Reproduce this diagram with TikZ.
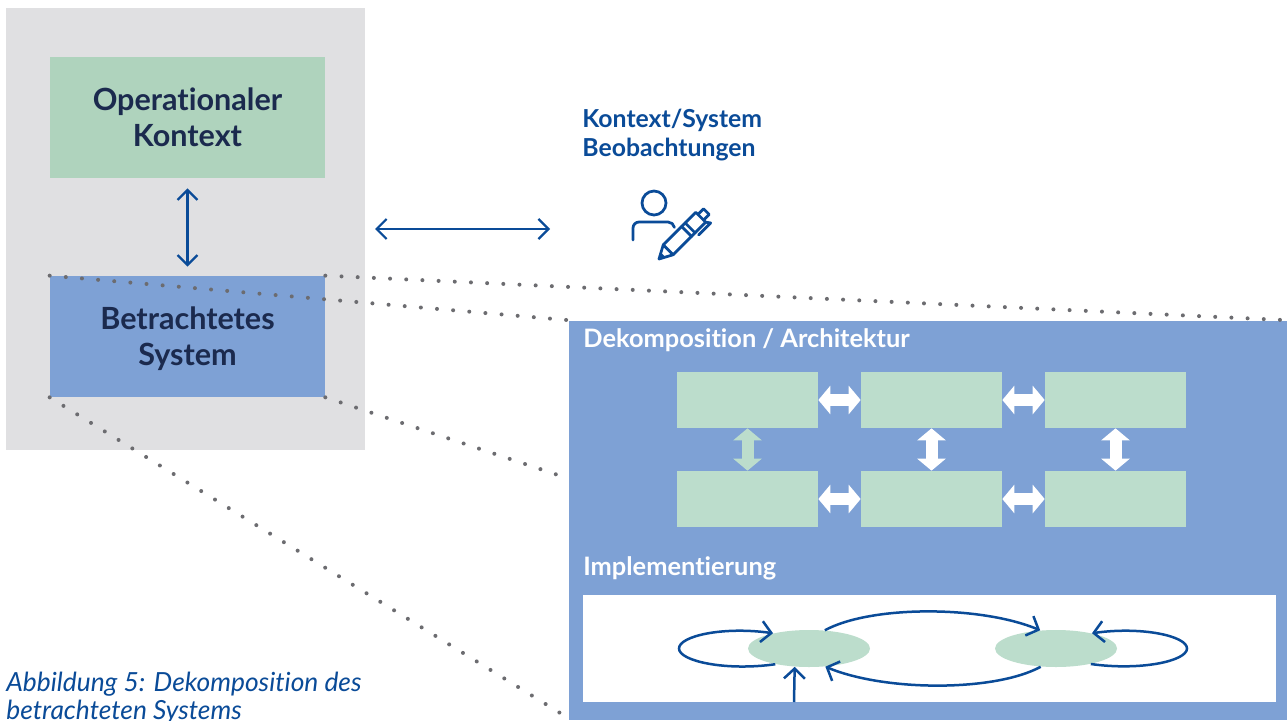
\documentclass[tikz,border=0pt]{standalone}
\usepackage{fontspec}
\setmainfont{Lato}[RawFeature=-liga]
\usetikzlibrary{arrows.meta,shapes.geometric}
\definecolor{greyback}{HTML}{E0E0E2}
\definecolor{greentop}{HTML}{AFD3BD}
\definecolor{greenpale}{HTML}{BCDDCC}
\definecolor{bluebox}{HTML}{7EA1D5}
\definecolor{navytext}{HTML}{1B2A4E}
\definecolor{bluedark}{HTML}{0A4B98}
\definecolor{dotgrey}{HTML}{6C6C70}
\tikzset{
	flatbox/.style={inner sep=0pt, minimum width=5.5cm, minimum height=2.42cm, align=center, text=navytext, text depth=0pt, font=\fontsize{17.4}{20.5}\selectfont\bfseries},
	partbox/.style={fill=greenpale, inner sep=0pt, minimum width=2.82cm, minimum height=1.12cm},
	statenode/.style={ellipse, fill=greenpale, inner sep=0pt, minimum width=2.44cm, minimum height=0.74cm},
	paneltext/.style={anchor=base west, inner sep=0pt, text=white, font=\fontsize{14.45}{16}\selectfont\bfseries},
	dotline/.style={dotgrey, line width=0.08cm, line cap=round, dash pattern=on 0pt off 0.324cm},
	thinarrow/.style={bluedark, line width=0.045cm, {Straight Barb[length=0.2cm,width=0.4cm]}-{Straight Barb[length=0.2cm,width=0.4cm]}},
	statearrow/.style={bluedark, line width=0.05cm, -{Straight Barb[length=0.2cm,width=0.42cm]}},
	blockarrow/.style={white, line width=0.24cm, {Triangle[length=0.24cm,width=0.56cm]}-{Triangle[length=0.24cm,width=0.56cm]}},
	iconline/.style={bluedark, line width=0.055cm, line join=round, line cap=round}
}

\begin{document}
\begin{tikzpicture}[x=0.02cm, y=-0.02cm]
	%%%%% START %%%%%
	\useasboundingbox (0, 0) rectangle (1287, 720);
	\clip (0, 0) rectangle (1287, 720);
	\fill[white] (0, 0) rectangle (1287, 720);

	\node[fill=greyback, inner sep=0pt, minimum width=7.18cm, minimum height=8.84cm] (backbox) at (185.5, 229) {};
	\node[flatbox, fill=greentop] (opctx) at (187.5, 117.5) {Operationaler\\Kontext};
	\node[flatbox, fill=bluebox] (betsys) at (187.5, 336.5) {Betrachtetes\\System};
	\node[fill=bluebox, inner sep=0pt, minimum width=14.36cm, minimum height=8cm] (panel) at (928, 520.5) {};

	\draw[thinarrow, shorten <=0.2cm, shorten >=0.18cm] (opctx.south) -- (betsys.north);
	\coordinate (obsleft) at (375, 229);
	\coordinate (obsright) at (550, 229);
	\draw[thinarrow] (obsleft) -- (obsright);

	\node[anchor=base west, inner sep=0pt, align=left, text=bluedark, font=\fontsize{14.1}{16.5}\selectfont\bfseries] (obstext) at (582, 156) {Kontext/System\\Beobachtungen};

	% person with pen
	\draw[iconline] (654, 203) circle (12);
	\draw[iconline] (633, 240) -- (633, 228) arc (180:270:6) -- (668, 222) arc (270:350:6.5);
	\begin{scope}[shift={(659, 259)}, x={(0.01414cm, 0.01414cm)}, y={(0.01414cm, -0.01414cm)}]
		\draw[iconline] (0, 0) -- (13, -7) -- (59, -7) -- (59, 7) -- (13, 7) -- cycle;
		\fill[bluedark] (0, 0) -- (6, -3.2) -- (6, 3.2) -- cycle;
		\draw[iconline] (13, -7) -- (13, 7);
		\draw[iconline] (39, -7) -- (39, 7);
		\draw[iconline] (44, -7) -- (44, 7);
		\draw[iconline] (59, -4) -- (67, -4) -- (67, 4) -- (59, 4);
		\draw[iconline] (45, 11) -- (62, 11) -- (59, 7);
	\end{scope}

	\coordinate (dotmid) at (558, 475);
	\coordinate (dotlow) at (565, 716);
	\draw[dotline] (betsys.north west) -- (panel.north west);
	\draw[dotline] (betsys.north east) -- (panel.north east);
	\draw[dotline] (betsys.south east) -- (dotmid);
	\draw[dotline] (betsys.south west) -- (dotlow);

	\node[paneltext] (archtext) at (583, 347) {Dekomposition / Architektur};
	\node[paneltext] (impltext) at (583, 575) {Implementierung};

	\node[partbox] (parta) at (747.5, 400) {};
	\node[partbox] (partb) at (931.5, 400) {};
	\node[partbox] (partc) at (1115.5, 400) {};
	\node[partbox] (partd) at (747.5, 499) {};
	\node[partbox] (parte) at (931.5, 499) {};
	\node[partbox] (partf) at (1115.5, 499) {};

	\draw[blockarrow] (parta.east) -- (partb.west);
	\draw[blockarrow] (partb.east) -- (partc.west);
	\draw[blockarrow] (partd.east) -- (parte.west);
	\draw[blockarrow] (parte.east) -- (partf.west);
	\draw[blockarrow, greenpale] (parta.south) -- (partd.north);
	\draw[blockarrow] (partb.south) -- (parte.north);
	\draw[blockarrow] (partc.south) -- (partf.north);

	\node[fill=white, inner sep=0pt, minimum width=13.86cm, minimum height=2.14cm] (implbox) at (929.5, 648.5) {};
	\node[statenode] (statea) at (809, 648.5) {};
	\node[statenode] (stateb) at (1056, 648.5) {};

	\coordinate (loopleft) at (679, 648.5);
	\coordinate (loopright) at (1187, 648.5);
	\coordinate (entry) at (794, 702);
	\draw[statearrow] (statea.205) .. controls +(-50, 7) and (679, 661) .. (loopleft) .. controls (679, 636) and +(-50, -7) .. (statea.157);
	\draw[statearrow] (stateb.336) .. controls +(50, 7) and (1187, 661) .. (loopright) .. controls (1187, 636) and +(50, -7) .. (stateb.23);
	\draw[statearrow] (statea.49) .. controls +(46, -25) and +(-60, -25) .. (stateb.131);
	\draw[statearrow] (stateb.230) .. controls +(-46, 25) and +(60, 25) .. (statea.-48);
	\draw[statearrow] (entry) -- (statea.232);

	\node[anchor=base west, inner sep=0pt, align=left, text=bluedark, font=\fontsize{15}{15.4}\selectfont\itshape] (caption) at (6, 719) {Abbildung 5: Dekomposition des\\betrachteten Systems};
	%%%%% END %%%%%
\end{tikzpicture}
\end{document}
